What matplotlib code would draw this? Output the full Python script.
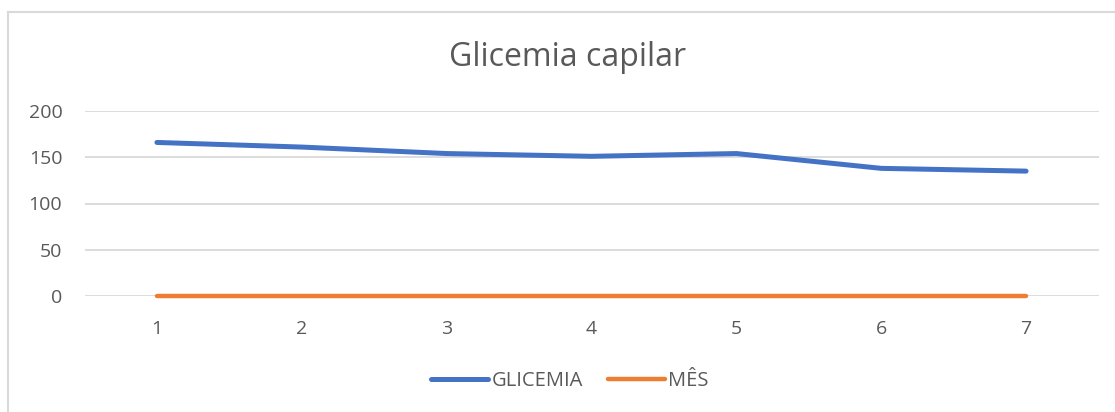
import matplotlib
matplotlib.use("Agg")
import matplotlib.pyplot as plt
from matplotlib.lines import Line2D

categories = [1, 2, 3, 4, 5, 6, 7]
glicemia = [166, 161, 154, 151, 154, 138, 135]
mes = [0, 0, 0, 0, 0, 0, 0]
yticks = [0, 50, 100, 150, 200]

plt.rcParams['font.family'] = ['Open Sans', 'DejaVu Sans']
W, H = 1115, 412
fig = plt.figure(figsize=(W / 100, H / 100), dpi=100)
ax = fig.add_axes([84.5 / W, 1 - 296 / H, (1098.5 - 84.5) / W, (296 - 111) / H])

x = list(range(len(categories)))
ax.plot(x, glicemia, color='#4472C4', lw=3.6, solid_capstyle='round', label='GLICEMIA', zorder=3)
ax.plot(x, mes, color='#ED7D31', lw=3.2, solid_capstyle='round', label='MÊS', zorder=3, clip_on=False)

ax.set_xlim(-0.5, len(categories) - 0.5)
ax.set_ylim(0, 200)
ax.set_yticks(yticks)
ax.set_xticks(x)
ax.set_xticklabels([str(c) for c in categories])
ax.grid(axis='y', color='#D9D9D9', lw=1.3)
ax.set_axisbelow(True)
for s in ax.spines.values():
    s.set_visible(False)
ax.tick_params(length=0, colors='#595959', labelsize=14)
ax.tick_params(axis='y', pad=16)
ax.tick_params(axis='x', pad=17)

fig.text(568 / W, 1 - 58 / H, 'Glicemia capilar', ha='center', va='center', fontsize=23, color='#595959')

leg = fig.legend(loc='center', bbox_to_anchor=(570 / W, 1 - 381 / H), ncol=2, frameon=False,
                 fontsize=14.5, handlelength=2.85, handletextpad=0.15, columnspacing=1.25)
for t in leg.get_texts():
    t.set_color('#595959')

border = '#D9D9D9'
fig.add_artist(Line2D([8 / W, 1], [1 - 12 / H, 1 - 12 / H], color=border, lw=1.5, transform=fig.transFigure))
fig.add_artist(Line2D([8 / W, 8 / W], [1 - 12 / H, 0], color=border, lw=1.5, transform=fig.transFigure))

fig.savefig('out.png', dpi=100)
